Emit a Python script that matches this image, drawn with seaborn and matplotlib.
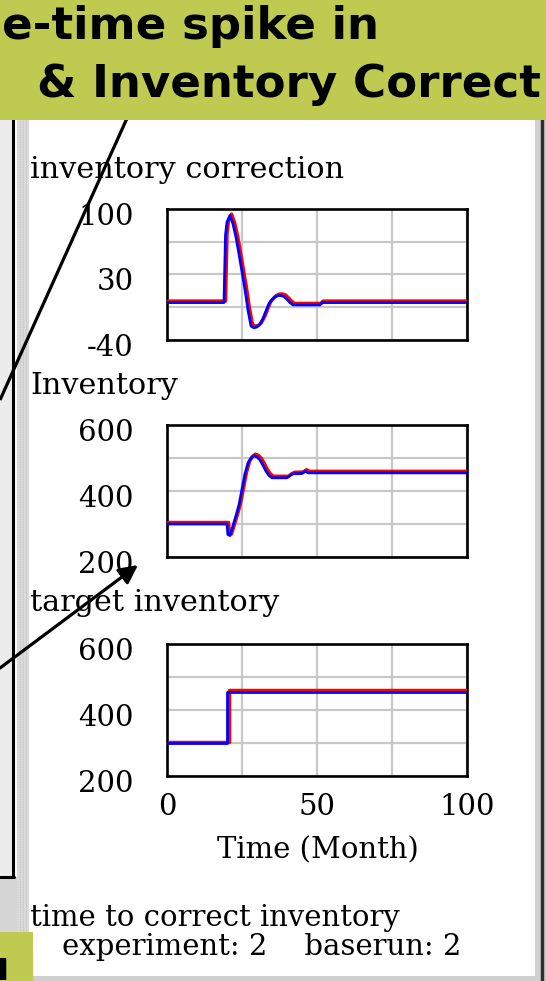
import matplotlib
matplotlib.use("Agg")
import matplotlib.pyplot as plt
import matplotlib.transforms as mtrans
from matplotlib.patches import Rectangle
import seaborn as sns
import pandas as pd

# ---------------- data ----------------
t_corr = [0, 19, 19.5, 20, 21, 22, 23, 24, 25, 26, 27, 28, 29, 30, 31, 32, 33, 34,
          35, 36, 37, 38, 39, 40, 41, 42, 51, 51.5, 100]
v_corr = [0, 0, 72, 86, 93, 84, 70, 52, 33, 14, -8, -25, -27, -26, -23, -17, -9, -1,
          3, 6, 7.5, 7.5, 6.5, 3.5, 0, -2.5, -2.5, 0, 0]

t_inv = [0, 20, 20.3, 21, 22, 23, 24, 25, 26, 27, 28, 29, 30, 31, 32, 33, 34, 35,
         40, 41, 42, 45, 46, 47, 100]
v_inv = [300, 300, 268, 265, 295, 325, 358, 405, 452, 485, 500, 507, 503, 494, 478,
         460, 447, 440, 440, 447, 452, 453, 460, 455, 455]

t_tgt = [0, 20, 20, 100]
v_tgt = [300, 300, 455, 455]

panel_titles = ["inventory correction", "Inventory", "target inventory"]
y_limits = [(-40, 100), (200, 600), (200, 600)]
y_labels = [["-40", "", "30", "", "100"], ["200", "", "400", "", "600"],
            ["200", "", "400", "", "600"]]
x_ticks = [0, 25, 50, 75, 100]
x_labels = ["0", "", "50", "", "100"]
x_title = "Time (Month)"
banner_lines = ["e-time spike in", "& Inventory Correct"]
footer_lines = ["time to correct inventory", "experiment: 2    baserun: 2"]

# ---------------- figure ----------------
sns.set_style("white")
plt.rcParams["font.family"] = ["DejaVu Serif"]
plt.rcParams["text.color"] = "black"
plt.rcParams["axes.labelcolor"] = "black"
plt.rcParams["xtick.color"] = "black"
plt.rcParams["ytick.color"] = "black"

W, H = 546, 981
fig = plt.figure(figsize=(W / 100, H / 100), dpi=100)
fig.patch.set_facecolor("white")


def fx(x):
    return x / W


def fy(y):
    return 1 - y / H


# background / frame axes
bg = fig.add_axes([0, 0, 1, 1], zorder=-5)
bg.set_xlim(0, W)
bg.set_ylim(H, 0)
bg.axis("off")
bg.add_patch(Rectangle((0, 0), 12, H, color="#ECECEC", lw=0))
bg.add_patch(Rectangle((0, 877), 18, H - 877, color="#D6D6D6", lw=0))
bg.plot([12.5, 12.5], [0, 877], color="black", lw=2.2)
bg.plot([0, 13.5], [877, 877], color="black", lw=2.2)
bg.add_patch(Rectangle((17, 0), 12, H, color="#DADADA", lw=0))
for xx in (20, 23, 26):
    bg.plot([xx, xx], [0, H], color="#BDBDBD", lw=0.6, ls=(0, (1, 1)))
bg.add_patch(Rectangle((535, 0), 11, H, color="#D0D0D0", lw=0))
bg.plot([542, 542], [0, H], color="#303030", lw=2.5)
bg.add_patch(Rectangle((0, 976), W, 5, color="#CFCFCF", lw=0))

# plot axes (pixel boxes)
boxes = [(167, 209, 467, 340), (167, 425, 467, 557), (167, 644, 467, 776)]
series = [(t_corr, v_corr), (t_inv, v_inv), (t_tgt, v_tgt)]

for i, ((l, t, r, b), (tx, vy)) in enumerate(zip(boxes, series)):
    ax = fig.add_axes([fx(l), fy(b), fx(r) - fx(l), fy(t) - fy(b)])
    df = pd.DataFrame({"t": tx, "v": vy})
    red_off = ax.transData + mtrans.ScaledTranslation(1.5 / 100, 1.5 / 100, fig.dpi_scale_trans)
    sns.lineplot(data=df, x="t", y="v", ax=ax, color="#FF0000", lw=2.5,
                 estimator=None, sort=False, transform=red_off, zorder=3)
    sns.lineplot(data=df, x="t", y="v", ax=ax, color="#0000FF", lw=2.0,
                 estimator=None, sort=False, zorder=4)
    lo, hi = y_limits[i]
    ax.set_xlim(0, 100)
    ax.set_ylim(lo, hi)
    ax.set_yticks([lo + k * (hi - lo) / 4 for k in range(5)])
    ax.set_yticklabels(y_labels[i])
    ax.set_xticks(x_ticks)
    if i == 2:
        ax.set_xticklabels(x_labels)
    else:
        ax.set_xticklabels([""] * 5)
    ax.grid(True, color="#C8C8C8", lw=1.6)
    ax.set_axisbelow(True)
    ax.tick_params(length=0, labelsize=21, pad=24, colors="black")
    ax.tick_params(axis="x", pad=12)
    for lab in ax.get_yticklabels():
        lab.set_transform(lab.get_transform() +
                          mtrans.ScaledTranslation(0, -5 / 100, fig.dpi_scale_trans))
    for sp in ax.spines.values():
        sp.set_color("black")
        sp.set_linewidth(1.9)
        sp.set_visible(True)
    ax.set_xlabel("")
    ax.set_ylabel("")

# text labels
fig.text(fx(30), fy(112), "Baserun", fontsize=21.5, va="center", ha="left", color="black")
title_y = [170, 386, 603]
for s, yy in zip(panel_titles, title_y):
    fig.text(fx(30), fy(yy), s, fontsize=21.8, va="center", ha="left", color="black")
fig.text(fx(318), fy(850), x_title, fontsize=21, va="center", ha="center", color="black")
fig.text(fx(30), fy(918), footer_lines[0], fontsize=21, va="center", ha="left", color="black")
fig.text(fx(62), fy(947), footer_lines[1], fontsize=21, va="center", ha="left", color="black")

# foreground overlay: arrows and banner
fg = fig.add_axes([0, 0, 1, 1], zorder=20)
fg.set_xlim(0, W)
fg.set_ylim(H, 0)
fg.axis("off")
fg.plot([0, 133], [400, 105], color="black", lw=2.3, solid_capstyle="butt")
fg.annotate("", xy=(138, 565), xytext=(0, 668),
            arrowprops=dict(arrowstyle="-|>", color="black", lw=2.3,
                            mutation_scale=28, shrinkA=0, shrinkB=0))
fg.add_patch(Rectangle((0, 0), W, 120, color="#BFCA50", lw=0, zorder=5))
fg.add_patch(Rectangle((0, 932), 33, 49, color="#BFCA50", lw=0, zorder=5))
fg.text(2, 26, banner_lines[0], fontsize=32.5, fontweight="bold", family="DejaVu Sans",
        ha="left", va="center", color="black", zorder=6)
fg.text(541, 84, banner_lines[1], fontsize=32.5, fontweight="bold", family="DejaVu Sans",
        ha="right", va="center", color="black", zorder=6)
fg.text(9, 968, "u", fontsize=29, fontweight="bold", family="DejaVu Sans",
        ha="right", va="center", color="black", zorder=6)

fig.savefig("out.png", dpi=100)
